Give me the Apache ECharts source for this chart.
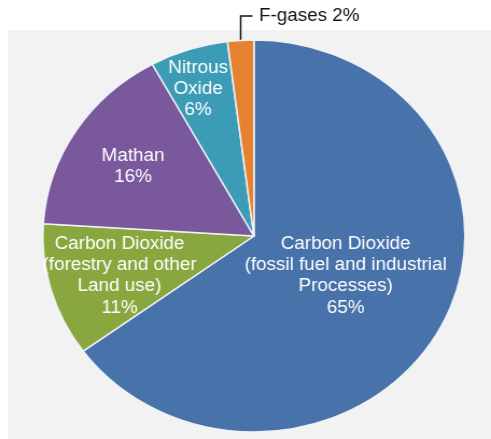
<!DOCTYPE html>
<html><head><meta charset="utf-8">
<script src="https://cdn.jsdelivr.net/npm/echarts@6/dist/echarts.min.js"></script>
<style>
html,body{margin:0;padding:0;background:#fff;width:491px;height:439px;overflow:hidden}
#bg{position:absolute;left:8px;top:30px;width:483px;height:409px;background:#f2f2f2}
#chart{position:absolute;left:0;top:0;width:456px;height:439px;transform:scaleX(1.0768);transform-origin:0 0}
</style></head><body>
<div id="bg"></div><div id="chart"></div>
<script>
// Data
const categories = ['Carbon Dioxide\n(fossil fuel and industrial\nProcesses)', 'Carbon Dioxide\n(forestry and other\nLand use)', 'Mathan', 'Nitrous\nOxide', 'F-gases'];
const values = [65, 11, 16, 6, 2];

// Styles / layout (kept separate from the data)
const colors = ['#4872aa', '#8aa73f', '#7a589c', '#3d9cb5', '#e5822f'];
const labelInside = [true, true, true, true, false];
const labelPos = [[321, 276], [111, 276], [123.5, 166.5], [184, 89], [234.5, 16]];

const chart = echarts.init(document.getElementById('chart'));
const data = categories.map((name, i) => ({
  name: name,
  value: values[i],
  itemStyle: { color: colors[i] },
  label: labelInside[i]
    ? { position: 'inside', color: '#fff', formatter: p => p.name + '\n' + p.value + '%' }
    : { position: 'outside', color: '#111', padding: [0, 0, 0, 6], formatter: p => p.name + ' ' + p.value + '%' },
  labelLine: { show: !labelInside[i] }
}));

chart.setOption({
  animation: false,
  series: [{
    type: 'pie',
    center: [235.8, 236],
    radius: 196,
    startAngle: 90,
    clockwise: true,
    data: data,
    itemStyle: { borderColor: '#eef2f7', borderWidth: 1.5 },
    label: { fontFamily: 'Liberation Sans, Arial, sans-serif', fontSize: 17.5, lineHeight: 21.3, align: 'center' },
    labelLine: { length: 10, length2: 11, lineStyle: { color: '#111', width: 1.5 } },
    labelLayout: function (params) {
      const i = params.dataIndex;
      const p = labelPos[i];
      return { x: p[0], y: p[1], align: labelInside[i] ? 'center' : 'left', verticalAlign: 'middle' };
    }
  }]
});
</script>
</body></html>
